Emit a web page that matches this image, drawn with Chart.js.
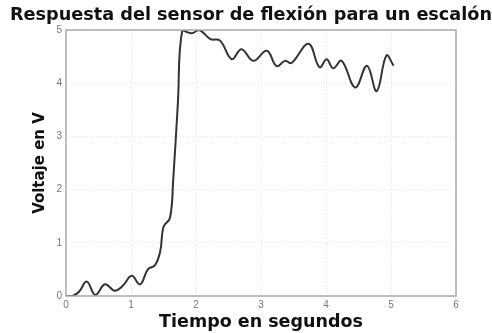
<!DOCTYPE html>
<html><head><meta charset="utf-8">
<script src="https://cdn.jsdelivr.net/npm/chart.js@4/dist/chart.umd.min.js"></script>
<style>html,body{margin:0;padding:0;background:#fff;}#wrap{width:492px;height:333px;}</style>
</head><body><div id="wrap"><canvas id="c" width="492" height="333"></canvas></div>
<script>
const titleText = "Respuesta del sensor de flexión para un escalón";
const xTitle = "Tiempo en segundos";
const yTitle = "Voltaje en V";
const times = [0,0.1,0.2,0.32,0.45,0.6,0.75,0.88,1.01,1.14,1.26,1.37,1.45,1.5,1.6,1.65,1.72,1.79,1.93,2.05,2.22,2.37,2.55,2.70,2.88,3.09,3.24,3.37,3.47,3.73,3.90,4.01,4.11,4.24,4.45,4.63,4.78,4.93,5.04];
const volts = [0,0.0,0.08,0.27,0.02,0.22,0.1,0.2,0.38,0.22,0.5,0.58,0.84,1.3,1.47,2.2,3.6,5.0,4.94,5.0,4.83,4.8,4.45,4.64,4.42,4.61,4.32,4.42,4.38,4.74,4.3,4.45,4.28,4.42,3.92,4.33,3.85,4.52,4.33];
const xTicks = [0,1,2,3,4,5,6];
const yTicks = [0,1,2,3,4,5];

const FONT = 'DejaVu Sans, Verdana, sans-serif';
const frame = {
  id:'frame',
  afterDraw(chart){
    const a = chart.chartArea, ctx = chart.ctx;
    ctx.save(); ctx.strokeStyle='#aaa'; ctx.lineWidth=1.5;
    ctx.strokeRect(a.left, a.top, a.right-a.left, a.bottom-a.top);
    ctx.restore();
  }
};

new Chart(document.getElementById('c'), {
  type:'line',
  data:{datasets:[{data:times.map((t,i)=>({x:t,y:volts[i]})),borderColor:'#333',borderWidth:2,pointRadius:0,tension:0.4,fill:false}]},
  options:{
    responsive:false,animation:false,
    layout:{padding:{left:10,right:0,top:0,bottom:0}},
    plugins:{legend:{display:false},tooltip:{enabled:false},
      title:{display:true,text:titleText,align:'start',color:'#111',font:{family:FONT,size:18,weight:'bold',lineHeight:1.2},padding:{top:5,bottom:3.4}}},
    scales:{
      x:{type:'linear',min:0,max:6,afterBuildTicks(s){s.ticks=xTicks.map(v=>({value:v}));},
        afterFit(s){s.height=37;},
        grid:{color:'#e4e4e4',lineWidth:1,drawTicks:false},border:{display:false,dash:[1,2]},
        ticks:{color:'#777',font:{family:'Liberation Sans, Arial',size:10},padding:3,maxRotation:0},
        title:{display:true,text:xTitle,color:'#111',font:{family:FONT,size:17.5,weight:'bold'},padding:{top:0,bottom:0}}},
      y:{type:'linear',min:0,max:5,afterBuildTicks(s){s.ticks=yTicks.map(v=>({value:v}));},
        afterFit(s){s.width=56;},
        grid:{color:'#e4e4e4',lineWidth:1,drawTicks:false},border:{display:false,dash:[1,2]},
        ticks:{color:'#777',font:{family:'Liberation Sans, Arial',size:10},padding:4},
        title:{display:true,text:yTitle,color:'#111',font:{family:FONT,size:15,weight:'bold'},padding:{top:21,bottom:2}}},
      yr:{type:'linear',position:'right',min:0,max:5,afterFit(s){s.width=36;},
        grid:{display:false},border:{display:false},ticks:{display:false}}
    }
  },
  plugins:[frame]
});
</script></body></html>
